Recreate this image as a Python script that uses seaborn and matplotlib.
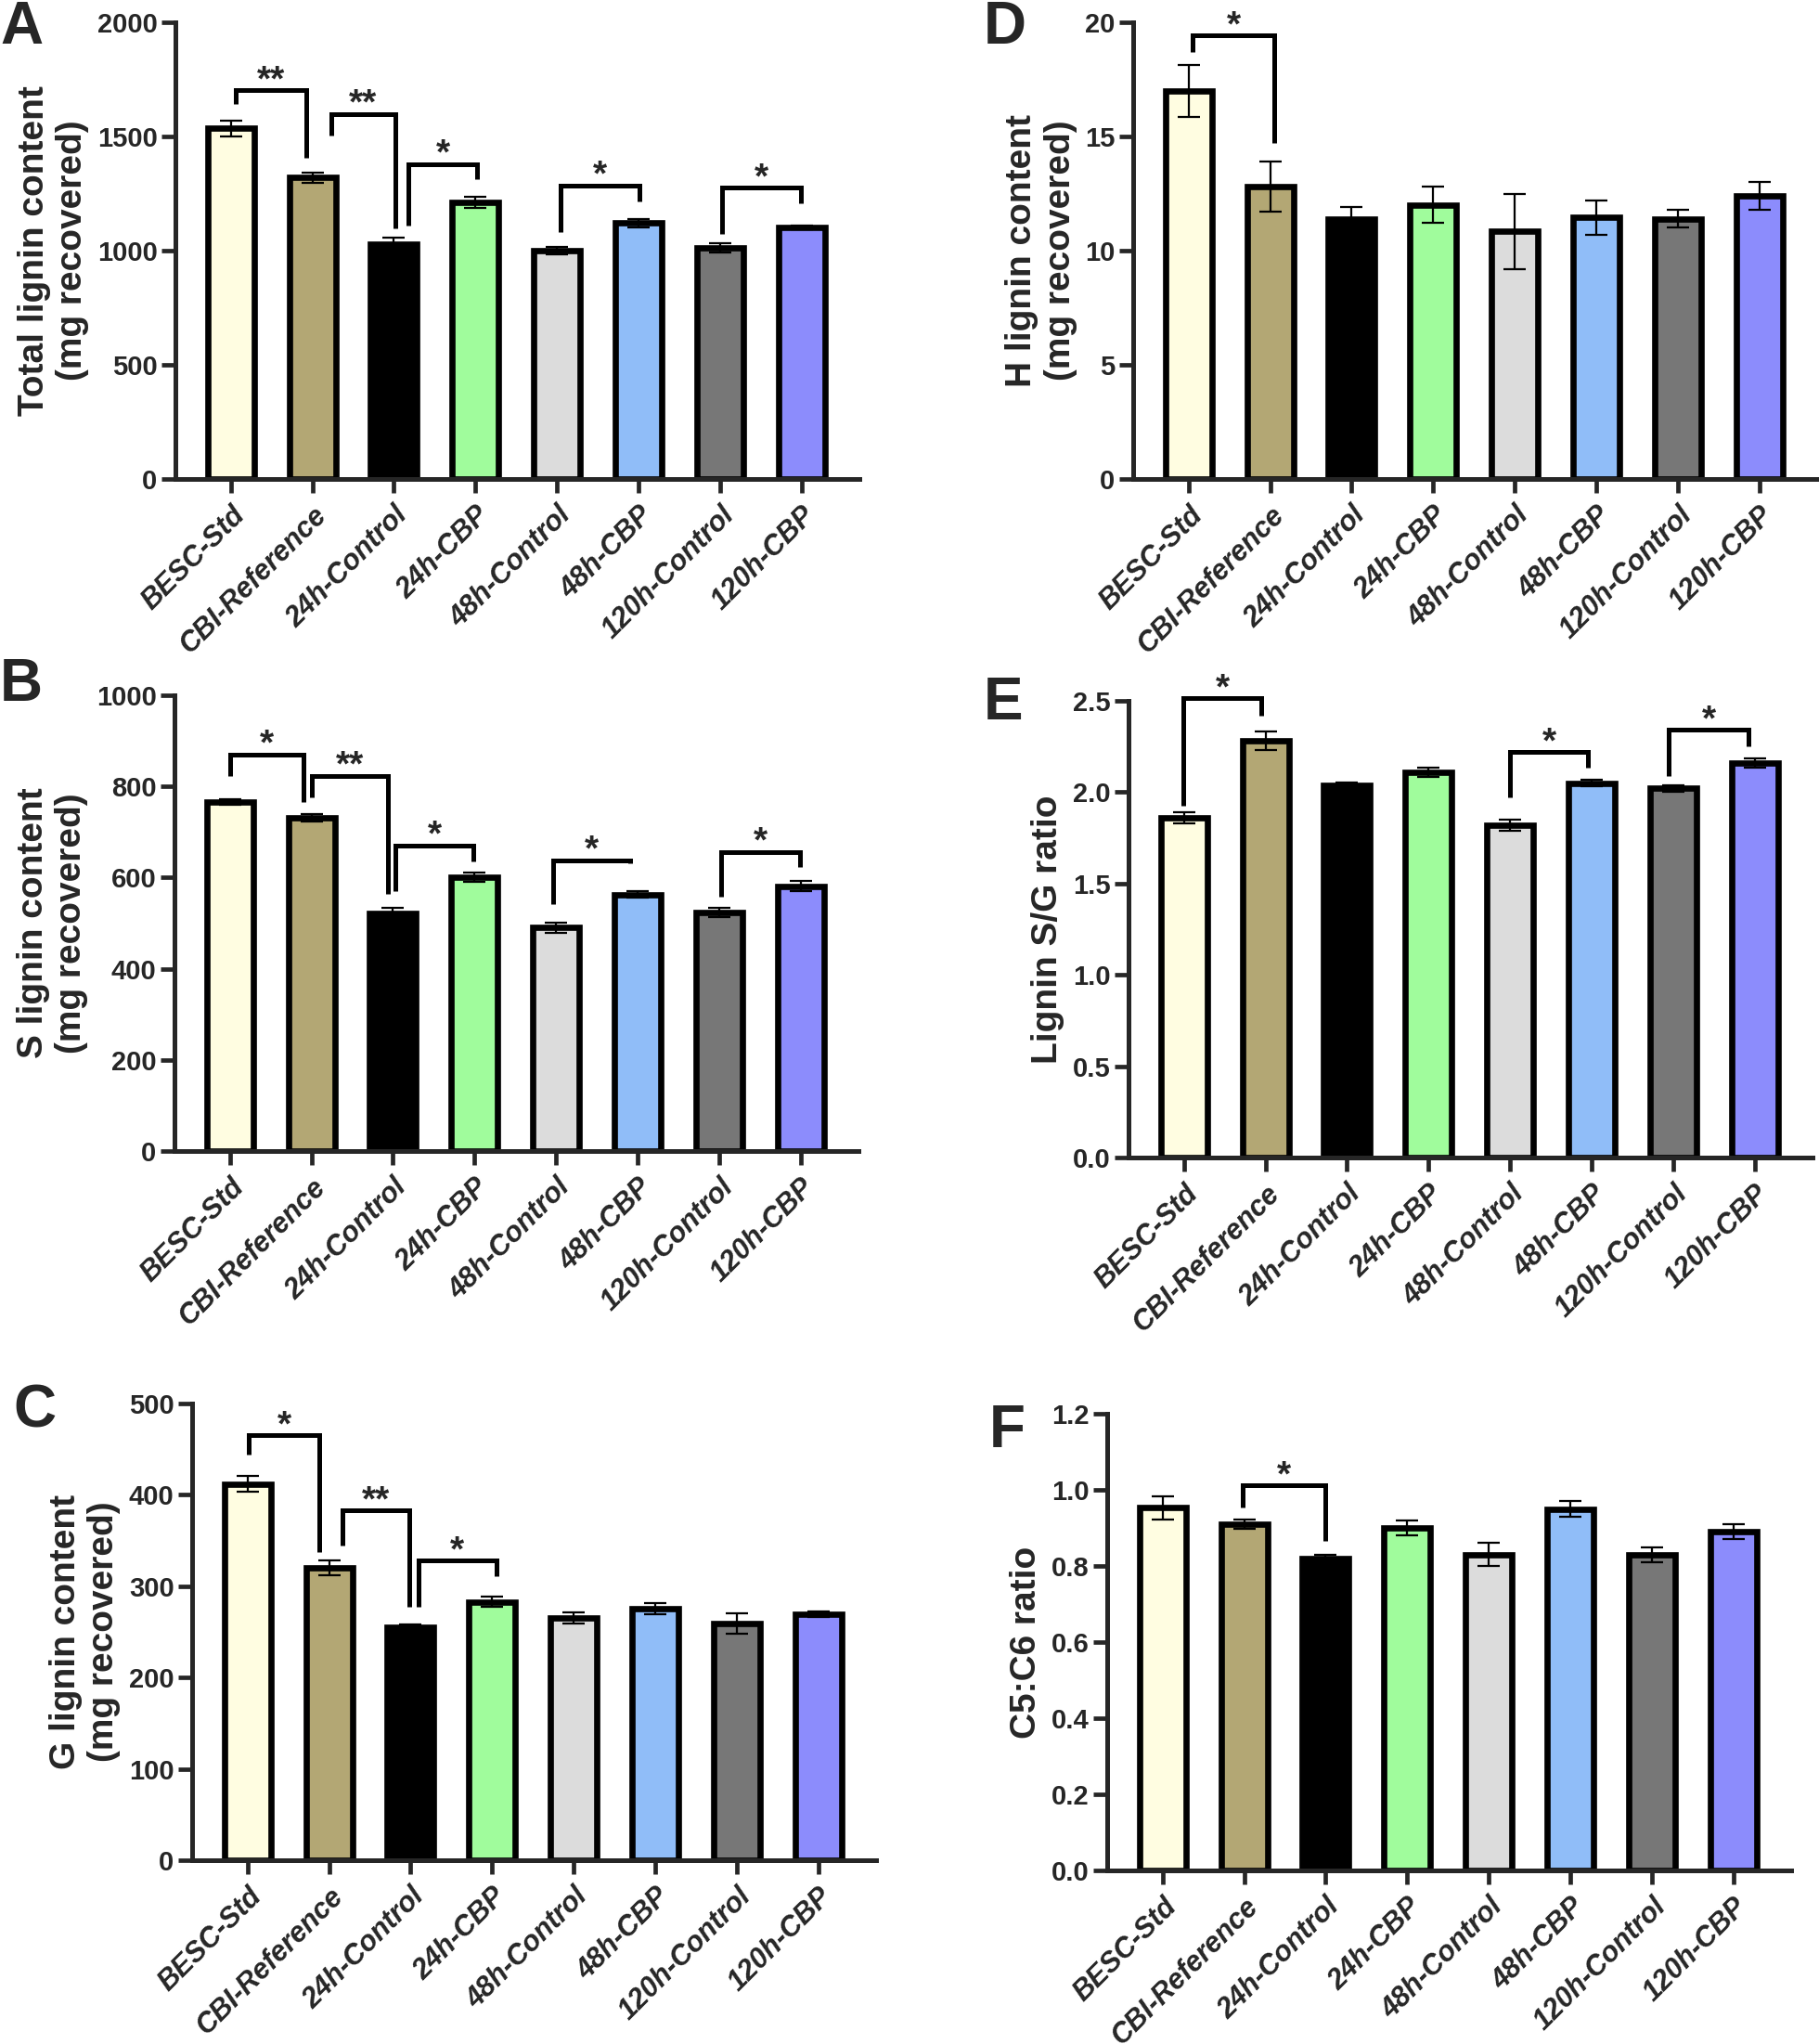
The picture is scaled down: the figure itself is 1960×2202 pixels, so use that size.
import numpy as np
import matplotlib
matplotlib.use('Agg')
import matplotlib.pyplot as plt
import seaborn as sns

sns.set_style('ticks')
plt.rcParams['font.family'] = ['Liberation Sans', 'DejaVu Sans']

groups = ['BESC-Std', 'CBI-Reference', '24h-Control', '24h-CBP',
          '48h-Control', '48h-CBP', '120h-Control', '120h-CBP']
bar_colors = ['#FFFDE1', '#B3A774', '#000000', '#A0FC9C',
              '#DCDCDC', '#90BDF8', '#777777', '#8C8CFC']

# panel A - total lignin
total_mean = [1535, 1320, 1030, 1210, 1000, 1120, 1012, 1100]
total_err = [35, 22, 28, 25, 15, 18, 22, 8]
# panel B - S lignin
s_mean = [766, 731, 521, 600, 490, 563, 523, 581]
s_err = [6, 8, 12, 10, 11, 7, 10, 11]
# panel C - G lignin
g_mean = [412, 320, 255, 283, 265, 275, 259, 269]
g_err = [9, 8, 3, 6, 6, 6, 11, 3]
# panel D - H lignin
h_mean = [17.0, 12.8, 11.4, 12.0, 10.85, 11.45, 11.4, 12.4]
h_err = [1.15, 1.1, 0.5, 0.8, 1.65, 0.75, 0.4, 0.6]
# panel E - S/G ratio
sg_mean = [1.86, 2.28, 2.04, 2.11, 1.82, 2.05, 2.02, 2.16]
sg_err = [0.03, 0.05, 0.015, 0.025, 0.03, 0.02, 0.02, 0.025]
# panel F - C5:C6 ratio
c5c6_mean = [0.953, 0.91, 0.82, 0.90, 0.83, 0.95, 0.83, 0.89]
c5c6_err = [0.03, 0.012, 0.01, 0.02, 0.03, 0.02, 0.02, 0.02]

# significance brackets: (x left, x right, top, left leg end, right leg end, label)
total_sig = [(0.06, 0.93, 1703, 1642, 1407, '**'),
             (1.23, 2.02, 1598, 1504, 1097, '**'),
             (2.18, 3.02, 1379, 1110, 1313, '*'),
             (4.05, 5.01, 1285, 1082, 1215, '*'),
             (6.03, 6.99, 1276, 1072, 1206, '*')]
s_sig = [(0.0, 0.9, 870, 823, 765, '*'),
         (1.01, 1.94, 823, 776, 565, '**'),
         (2.03, 2.99, 671, 570, 636, '*'),
         (3.96, 4.91, 638, 542, 631, '*'),
         (6.02, 6.99, 656, 558, 624, '*')]
g_sig = [(0.02, 0.88, 465, 444, 337, '*'),
         (1.16, 1.98, 383, 345, 277, '**'),
         (2.1, 3.05, 328, 277, 311, '*')]
h_sig = [(0.05, 1.05, 19.43, 18.7, 14.7, '*')]
sg_sig = [(-0.01, 0.95, 2.515, 1.926, 2.42, '*'),
          (4.0, 4.96, 2.218, 1.97, 2.135, '*'),
          (5.95, 6.92, 2.34, 2.088, 2.253, '*')]
c5c6_sig = [(0.98, 2.0, 1.012, 0.954, 0.866, '*')]

W, H = 1960, 2202
fig = plt.figure(figsize=(W / 100, H / 100), dpi=100)
AX_W = 737


def px_axes(left, top, bottom):
    return fig.add_axes([left / W, 1 - bottom / H, AX_W / W, (bottom - top) / H])


def draw_panel(ax, means, errs, ymax, ystep, ylabel, sig, fmt):
    sns.barplot(x=groups, y=means, hue=groups, palette=bar_colors, width=0.57,
                saturation=1, edgecolor='black', linewidth=4.8, legend=False, ax=ax)
    ax.errorbar(np.arange(len(groups)), means, yerr=errs, fmt='none', ecolor='black',
                elinewidth=1.6, capsize=8.5, capthick=1.6, zorder=5)
    for x1, x2, yt, yl, yr, lab in sig:
        ax.plot([x1, x1, x2, x2], [yl, yt, yt, yr], color='black', lw=3.6,
                solid_joinstyle='miter', solid_capstyle='butt', clip_on=False, zorder=6)
        ax.text((x1 + x2) / 2, yt, lab, ha='center', va='baseline', fontsize=28,
                fontweight='bold')
    ax.set_xlim(-0.68, 7.71)
    ax.set_ylim(0, ymax)
    ticks = np.arange(0, ymax + ystep / 2, ystep)
    ax.set_yticks(ticks)
    ax.set_yticklabels([fmt.format(v) for v in ticks], fontweight='bold', fontsize=21)
    ax.set_xticks(range(len(groups)))
    ax.set_xticklabels(groups, rotation=45, ha='right', va='top', rotation_mode='anchor',
                       fontsize=22, fontweight='bold', fontstyle='italic')
    ax.set_xlabel('')
    ax.set_ylabel(ylabel, fontsize=28, fontweight='bold', labelpad=6)
    sns.despine(ax=ax)
    for sp in ['left', 'bottom']:
        ax.spines[sp].set_linewidth(3.6)
    ax.tick_params(axis='x', length=11, width=3.4, pad=6)
    ax.tick_params(axis='y', length=11, width=3.4, pad=3)


axA = px_axes(189, 24, 516)
draw_panel(axA, total_mean, total_err, 2000, 500,
           'Total lignin content\n(mg recovered)', total_sig, '{:.0f}')
axB = px_axes(188, 749, 1240)
draw_panel(axB, s_mean, s_err, 1000, 200,
           'S lignin content\n(mg recovered)', s_sig, '{:.0f}')
axC = px_axes(207, 1512, 2004)
draw_panel(axC, g_mean, g_err, 500, 100,
           'G lignin content\n(mg recovered)', g_sig, '{:.0f}')
axD = px_axes(1221, 24, 516)
draw_panel(axD, h_mean, h_err, 20, 5,
           'H lignin content\n(mg recovered)', h_sig, '{:.0f}')
axE = px_axes(1216, 755, 1247)
draw_panel(axE, sg_mean, sg_err, 2.5, 0.5, 'Lignin S/G ratio', sg_sig, '{:.1f}')
axF = px_axes(1193, 1523, 2015)
draw_panel(axF, c5c6_mean, c5c6_err, 1.2, 0.2, 'C5:C6 ratio', c5c6_sig, '{:.1f}')

for lab, x, y in [('A', 0, 0), ('B', 0, 708), ('C', 14, 1490),
                  ('D', 1060, 0), ('E', 1060, 728), ('F', 1066, 1512)]:
    fig.text(x / W, 1 - y / H, lab, ha='left', va='top', fontsize=46,
             fontweight='bold')

fig.savefig('out.png', dpi=100, facecolor='white')
